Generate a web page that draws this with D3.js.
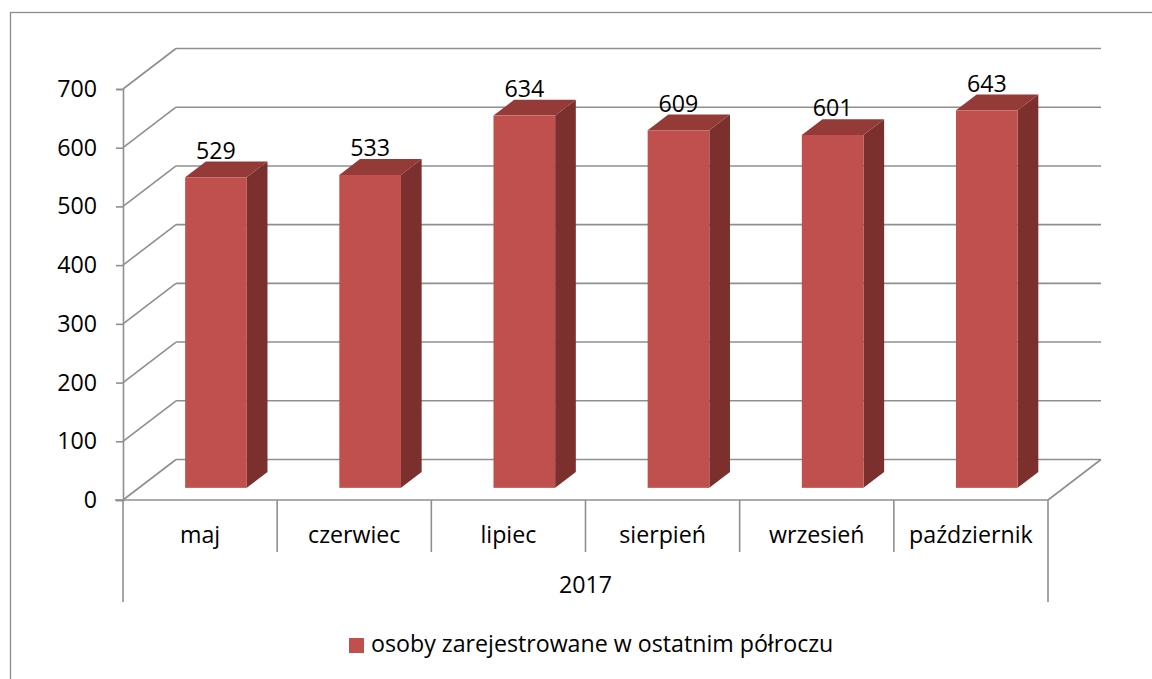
<!DOCTYPE html>
<html>
<head>
<meta charset="utf-8">
<script src="https://cdn.jsdelivr.net/npm/d3@7"></script>
<style>
  html, body { margin: 0; padding: 0; background: #fff; }
  svg { display: block; }
  text { font-family: "Open Sans", sans-serif; fill: #000; }
</style>
</head>
<body>
<svg id="chart" width="1152" height="679"></svg>
<script>
// ---- data ----
const categories = ["maj", "czerwiec", "lipiec", "sierpień", "wrzesień", "październik"];
const values = [529, 533, 634, 609, 601, 643];
const yTicks = [0, 100, 200, 300, 400, 500, 600, 700];
const groupLabel = "2017";
const seriesName = "osoby zarejestrowane w ostatnim półroczu";

// ---- layout ----
const svg = d3.select("#chart");
const gridColor = "#8f8f8f";
const frontColor = "#c0504d", topColor = "#943a37", sideColor = "#7b302e";
const left = 123, right = 1048, y0 = 500, yTop = 89;
const depth = { dx: 53, dy: -40.5 };
const barFront = 0.3, barDepth = 0.39;
const fontSize = 23.2;

const xCat = d3.scaleBand().domain(categories).range([left, right]).padding(0);
const xBar = d3.scaleBand().domain(categories).range([left, right]).paddingInner(0.6).paddingOuter(0.3);
const y = d3.scaleLinear().domain([0, 700]).range([y0, yTop]);

// outer border
svg.append("rect").attr("x", 10.5).attr("y", 12.5).attr("width", 1160).attr("height", 700)
  .attr("fill", "none").attr("stroke", "#8c8c8c").attr("stroke-width", 1.3);

// back wall gridlines + left wall diagonals
const grid = svg.append("g").attr("stroke", gridColor).attr("stroke-width", 1.6).attr("fill", "none");
yTicks.forEach(v => {
  grid.append("line").attr("x1", left).attr("y1", y(v)).attr("x2", left + depth.dx).attr("y2", y(v) + depth.dy);
  grid.append("line").attr("x1", left + depth.dx).attr("y1", y(v) + depth.dy)
    .attr("x2", right + depth.dx).attr("y2", y(v) + depth.dy);
});
// right floor diagonal
grid.append("line").attr("x1", right).attr("y1", y(0)).attr("x2", right + depth.dx).attr("y2", y(0) + depth.dy);
// front floor line
grid.append("line").attr("x1", left - 8).attr("y1", y(0)).attr("x2", right).attr("y2", y(0));
// category separators
categories.forEach((c, i) => {
  if (i === 0) return;
  const x = xCat(c);
  grid.append("line").attr("x1", x).attr("y1", y(0)).attr("x2", x).attr("y2", 552);
});
grid.append("line").attr("x1", left).attr("y1", y(0)).attr("x2", left).attr("y2", 602);
grid.append("line").attr("x1", right).attr("y1", y(0)).attr("x2", right).attr("y2", 602);

// y axis
const yAxis = svg.append("g").attr("transform", `translate(${left},0)`)
  .call(d3.axisLeft(y).tickValues(yTicks).tickSize(7).tickPadding(19).tickFormat(d3.format("d")));
yAxis.select(".domain").attr("stroke", gridColor).attr("stroke-width", 1.6);
yAxis.selectAll(".tick line").attr("stroke", gridColor).attr("stroke-width", 1.6);
yAxis.selectAll(".tick text").attr("font-size", fontSize).attr("font-family", "Open Sans, sans-serif").attr("fill", "#000");

// bars (3D)
const fx = barFront * depth.dx, fy = barFront * depth.dy;
const bx = barDepth * depth.dx, by = barDepth * depth.dy;
const bars = svg.append("g");
categories.forEach((c, i) => {
  const v = values[i];
  const xl = xBar(c) + fx, xr = xBar(c) + xBar.bandwidth() + fx;
  const yt = y(v) + fy, yb = y(0) + fy;
  const g = bars.append("g");
  // side
  g.append("path").attr("fill", sideColor)
    .attr("d", `M${xr},${yt}L${xr + bx},${yt + by}L${xr + bx},${yb + by}L${xr},${yb}Z`);
  // top
  g.append("path").attr("fill", topColor)
    .attr("d", `M${xl},${yt}L${xr},${yt}L${xr + bx},${yt + by}L${xl + bx},${yt + by}Z`);
  // front
  g.append("rect").attr("fill", frontColor).attr("x", xl).attr("y", yt).attr("width", xr - xl).attr("height", yb - yt);
  // label
  svg.append("text").attr("x", (xl + xr) / 2).attr("y", yt - 18.5).attr("text-anchor", "middle")
    .attr("font-size", fontSize).text(v);
});

// category labels
const xAxis = svg.append("g").attr("transform", `translate(0,${y(0)})`)
  .call(d3.axisBottom(xCat).tickSize(0).tickPadding(0));
xAxis.select(".domain").remove();
xAxis.selectAll(".tick text").attr("font-size", fontSize).attr("font-family", "Open Sans, sans-serif")
  .attr("fill", "#000").attr("dy", null).attr("y", 43);

// group label
svg.append("text").attr("x", (left + right) / 2).attr("y", 593).attr("text-anchor", "middle")
  .attr("font-size", fontSize).text(groupLabel);

// legend
svg.append("rect").attr("x", 349).attr("y", 638).attr("width", 15).attr("height", 15).attr("fill", frontColor);
svg.append("text").attr("x", 371).attr("y", 652).attr("font-size", fontSize).text(seriesName);
</script>
</body>
</html>
